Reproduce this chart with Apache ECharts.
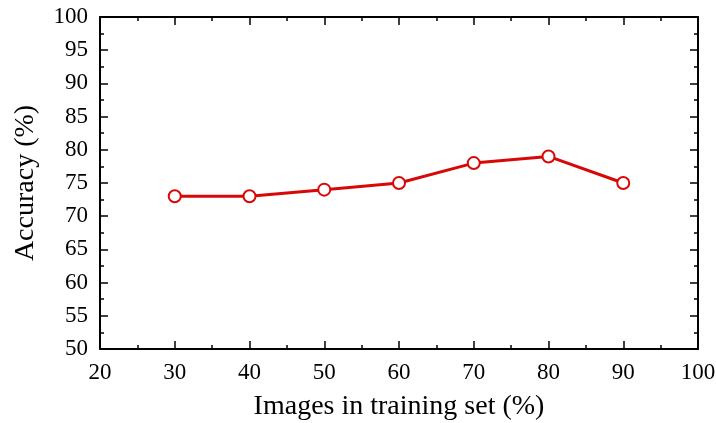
<!DOCTYPE html>
<html>
<head>
<meta charset="utf-8">
<script src="https://cdn.jsdelivr.net/npm/echarts@6/dist/echarts.min.js"></script>
<style>
    html, body { margin: 0; padding: 0; background: #fff; }
    #chart { width: 716px; height: 423px; }
</style>
</head>
<body>
<div id="chart"></div>
<script>
// Data
var trainingShare = [30, 40, 50, 60, 70, 80, 90];
var accuracy = [73, 73, 74, 75, 78, 79, 75];

var chart = echarts.init(document.getElementById('chart'));

var fontFamily = '"Liberation Serif", "Times New Roman", serif';

// Shared frame style (gnuplot-like box with inward ticks)
var frameLine = { show: true, onZero: false, lineStyle: { color: '#000', width: 2 } };
var majorTick = { show: true, inside: true, length: 8, lineStyle: { color: '#000', width: 1.5 } };
var minorTick = { show: true, splitNumber: 2, length: 4, lineStyle: { color: '#000', width: 1.5 } };

chart.setOption({
    animation: false,
    textStyle: { fontFamily: fontFamily },
    grid: { left: 100, right: 18, top: 17, bottom: 74, containLabel: false, outerBoundsMode: 'none' },
    xAxis: [{
        type: 'value',
        min: 20,
        max: 100,
        interval: 10,
        position: 'bottom',
        name: 'Images in training set (%)',
        nameLocation: 'middle',
        nameGap: 44,
        nameTextStyle: { color: '#000', fontSize: 28, fontFamily: fontFamily },
        axisLine: frameLine,
        axisTick: majorTick,
        minorTick: minorTick,
        axisLabel: { color: '#000', fontSize: 23, margin: 12, fontFamily: fontFamily },
        splitLine: { show: false }
    }, {
        type: 'value',
        min: 20,
        max: 100,
        interval: 10,
        position: 'top',
        axisLine: frameLine,
        axisTick: majorTick,
        minorTick: minorTick,
        axisLabel: { show: false },
        splitLine: { show: false }
    }],
    yAxis: [{
        type: 'value',
        min: 50,
        max: 100,
        interval: 5,
        position: 'left',
        name: 'Accuracy (%)',
        nameLocation: 'middle',
        nameGap: 60,
        nameTextStyle: { color: '#000', fontSize: 28, fontFamily: fontFamily },
        axisLine: frameLine,
        axisTick: majorTick,
        minorTick: minorTick,
        axisLabel: { color: '#000', fontSize: 23, margin: 12, fontFamily: fontFamily },
        splitLine: { show: false }
    }, {
        type: 'value',
        min: 50,
        max: 100,
        interval: 5,
        position: 'right',
        axisLine: frameLine,
        axisTick: majorTick,
        minorTick: minorTick,
        axisLabel: { show: false },
        splitLine: { show: false }
    }],
    series: [{
        type: 'line',
        xAxisIndex: 0,
        yAxisIndex: 0,
        data: trainingShare.map(function (x, i) { return [x, accuracy[i]]; }),
        symbol: 'emptyCircle',
        symbolSize: 12,
        lineStyle: { color: '#d80808', width: 3 },
        itemStyle: { color: '#d80808', borderColor: '#d80808', borderWidth: 3 }
    }]
});
</script>
</body>
</html>
